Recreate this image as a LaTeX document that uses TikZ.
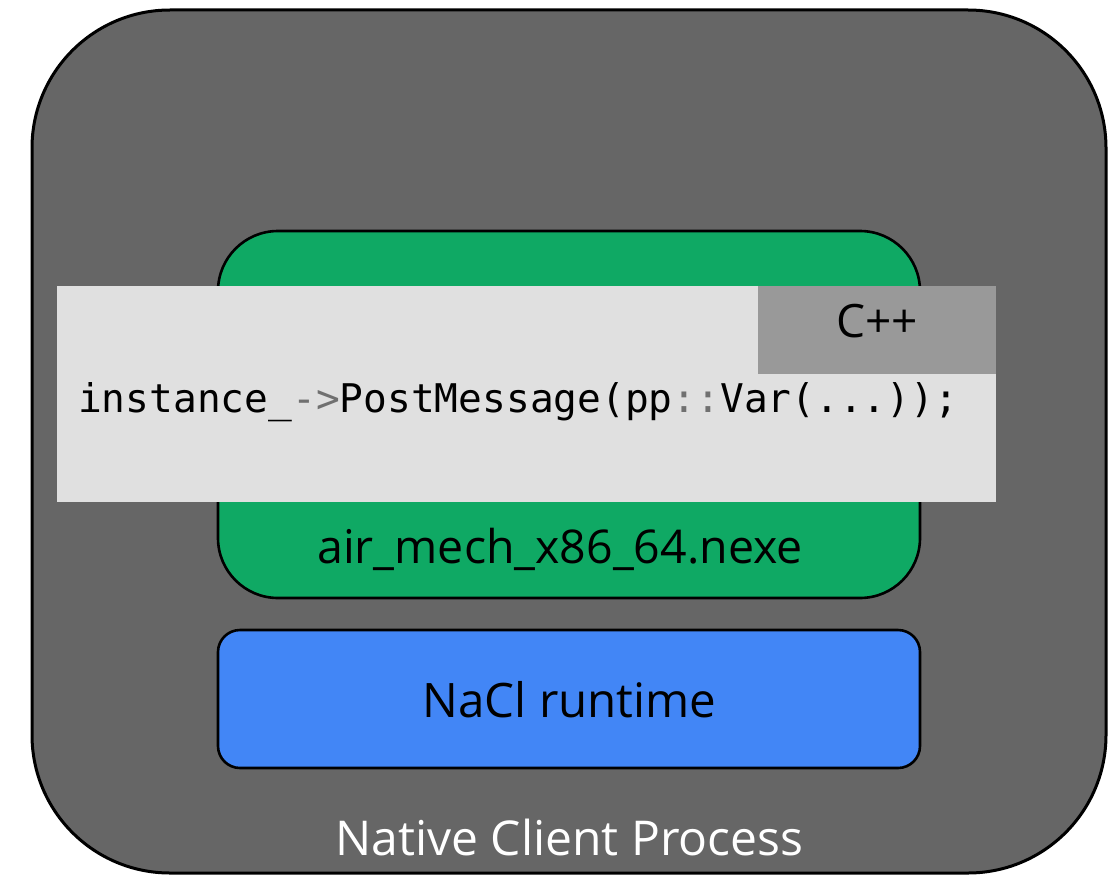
\documentclass[tikz,border=0pt]{standalone}
\usepackage{fontspec}
\setmainfont{Open Sans}
\newfontfamily\codefont{DejaVu Sans Mono}
\definecolor{procgray}{HTML}{666666}
\definecolor{nexegreen}{HTML}{0FA964}
\definecolor{naclblue}{HTML}{4286F6}
\definecolor{codebg}{HTML}{E0E0E0}
\definecolor{langbg}{HTML}{999999}
\definecolor{punct}{HTML}{707070}
\tikzset{
  box/.style={draw=black, line width=2.6pt, inner sep=0pt},
  flat/.style={inner sep=0pt, draw=none},
  lbl/.style={inner sep=0pt, anchor=base, font=\fontsize{47}{56}\selectfont},
}
\begin{document}
\begin{tikzpicture}[x=1pt,y=-1pt]
\useasboundingbox (0,0) rectangle (1108,875);
% outer process box
\node[box, line width=3pt, fill=procgray, rounded corners=138pt, minimum width=1074pt, minimum height=863pt] (proc) at (569,441.5) {};
% nexe box
\node[box, fill=nexegreen, rounded corners=60pt, minimum width=702pt, minimum height=367pt] (nexe) at (569,414.5) {};
% runtime box
\node[box, fill=naclblue, rounded corners=22pt, minimum width=702pt, minimum height=138pt] (runtime) at (569,699) {};
% code box
\node[flat, fill=codebg, minimum width=939pt, minimum height=216pt] (code) at (526.5,394) {};
% language tab
\node[flat, fill=langbg, minimum width=238pt, minimum height=88pt] (lang) at (877,330) {};
% texts
\node[lbl, font=\fontsize{46}{54}\selectfont] (langtxt) at (877,337) {C++};
\node[inner sep=0pt, anchor=base west, font=\codefont\fontsize{39.5}{47}\selectfont] (codetxt) at (78,412)
  {instance\_\textcolor{punct}{->}PostMessage(pp\textcolor{punct}{::}Var(...));};
\node[lbl, font=\fontsize{46.5}{55}\selectfont] (nexetxt) at (560,563) {air\_mech\_x86\_64.nexe};
\node[lbl, font=\fontsize{47.5}{56}\selectfont] (runtimetxt) at (569.5,717) {NaCl runtime};
\node[lbl, text=white, font=\fontsize{48}{57}\selectfont] (proctxt) at (569.5,855) {Native Client Process};
\end{tikzpicture}
\end{document}
